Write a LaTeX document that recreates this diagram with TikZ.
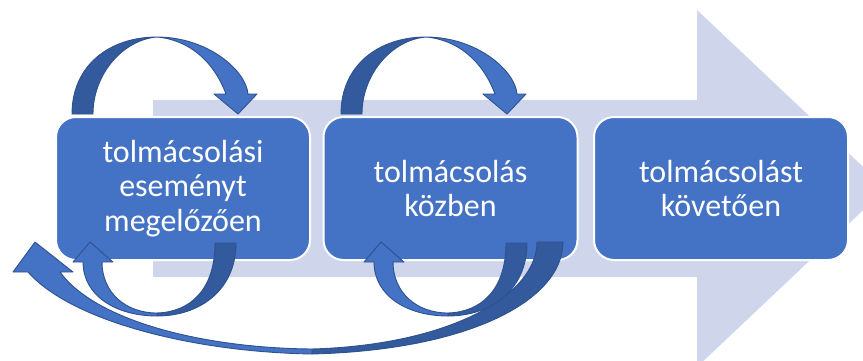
\documentclass[tikz,border=0pt]{standalone}
\usepackage{fontspec}
\setmainfont{Carlito}
\definecolor{bgarrow}{HTML}{CFD5EA}
\definecolor{boxblue}{HTML}{4472C4}
\definecolor{darkblue}{HTML}{335A9C}
\definecolor{edgeblue}{HTML}{2F528F}
\tikzset{
  stagebox/.style={rounded corners=20pt, fill=boxblue, draw=white, line width=2pt,
    minimum width=254pt, minimum height=143pt, inner sep=0pt, text=white, align=center,
    font=\fontsize{32}{34.5}\selectfont},
  darkpart/.style={fill=darkblue, draw=edgeblue, line width=0.9pt, line join=round},
  lightpart/.style={fill=boxblue, draw=edgeblue, line width=0.9pt, line join=round},
}
\begin{document}
\begin{tikzpicture}[x=1pt,y=-1pt]
\useasboundingbox (0,0) rectangle (863,360);
\begin{scope}
\clip (0,0) rectangle (863,360);
\fill[bgarrow] (153,100) -- (697,100) -- (697,10) -- (886,188.5) -- (697,367) -- (697,277) -- (153,277) -- cycle;
\end{scope}
% top loop arrows
\foreach \dx in {0,269}{
\begin{scope}[xshift=\dx pt]
\filldraw[darkpart] (72,114) .. controls (72,65) and (110,37) .. (157,37)
   .. controls (122,40) and (93,75) .. (93,114) -- cycle;
\filldraw[lightpart] (157,37) .. controls (207,37) and (246,70) .. (248,94) -- (257,94) -- (238,114) -- (214,94) -- (226,94)
   .. controls (214,62) and (190,40) .. (157,37) -- cycle;
\end{scope}}
% stage boxes
\node[stagebox] (b1) at (183,188.5) {tolmácsolási\\eseményt\\megelőzően};
\node[stagebox] (b2) at (450.5,188.5) {tolmácsolás\\közben};
\node[stagebox] (b3) at (721,188.5) {tolmácsolást\\követően};
% long return arrow
\filldraw[darkpart] (563,242) .. controls (563,300) and (470,350) .. (312,354) -- (312,349)
   .. controls (450,345) and (537,295) .. (537,242) -- cycle;
\filldraw[lightpart] (312,354) .. controls (190,352) and (70,320) .. (28,272) -- (13,272) -- (35,242) -- (73,272) -- (60,272)
   .. controls (95,320) and (200,348) .. (312,349) -- cycle;
% bottom loop arrows
\foreach \dx in {0,291}{
\begin{scope}[xshift=\dx pt]
\filldraw[darkpart] (236,243) .. controls (236,290) and (200,316) .. (157,316) -- (157,313)
   .. controls (190,312) and (215,290) .. (215,243) -- cycle;
\filldraw[lightpart] (157,316) .. controls (115,316) and (83,295) .. (83,262) -- (73,262) -- (90,242) -- (113,262) -- (102,262)
   .. controls (102,292) and (125,313) .. (157,313) -- cycle;
\end{scope}}
\end{tikzpicture}
\end{document}
